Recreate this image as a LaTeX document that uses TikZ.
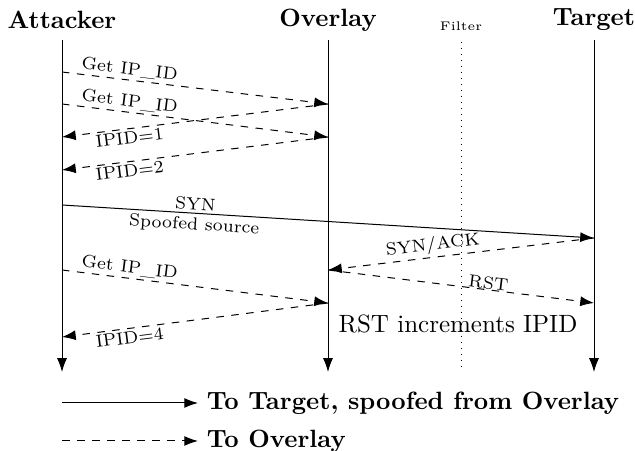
\documentclass[tikz,border=0pt]{standalone}
\usepackage{tikz}
\usetikzlibrary{arrows.meta,positioning}

\begin{document}
\begin{tikzpicture}[
    x=0.4pt, y=-0.4pt,
    title/.style={font=\bfseries},
    msg/.style={font=\scriptsize, sloped, inner sep=1pt},
    arrow/.style={-{Latex[length=5.5pt,width=4pt]}},
    darrow/.style={arrow, dashed}
]
    \useasboundingbox (0,0) rectangle (635,451);

    % actors
    \node[title] (attacker) at (62,20) {Attacker};
    \node[title] (overlay) at (328,20) {Overlay};
    \node[title] (target) at (594,20) {Target};
    \node[font=\tiny] (filter) at (461,26) {Filter};

    % lifelines
    \coordinate (a0) at (62,40);   \coordinate (a9) at (62,372);
    \coordinate (o0) at (328,40);  \coordinate (o9) at (328,372);
    \coordinate (t0) at (594,40);  \coordinate (t9) at (594,372);
    \coordinate (f0) at (461,42);  \coordinate (f9) at (461,367);
    \draw[arrow] (a0) -- (a9);
    \draw[arrow] (o0) -- (o9);
    \draw[arrow] (t0) -- (t9);
    \draw[dotted] (f0) -- (f9);

    % message ends
    \coordinate (a1) at (62,72);  \coordinate (a2) at (62,104);
    \coordinate (a3) at (62,137); \coordinate (a4) at (62,170);
    \coordinate (a5) at (62,205); \coordinate (a6) at (62,270);
    \coordinate (a7) at (62,337);
    \coordinate (o1) at (328,104); \coordinate (o2) at (328,137);
    \coordinate (o3) at (328,270); \coordinate (o4) at (328,303);
    \coordinate (t1) at (594,238); \coordinate (t2) at (594,303);

    % messages
    \draw[darrow] (a1) -- node[msg, above, pos=0.25] {Get IP\_ID} (o1);
    \draw[darrow] (a2) -- node[msg, above, pos=0.25] {Get IP\_ID} (o2);
    \draw[darrow] (o1) -- node[msg, below, pos=0.75] {IPID=1} (a3);
    \draw[darrow] (o2) -- node[msg, below, pos=0.75] {IPID=2} (a4);
    \draw[arrow] (a5) -- node[msg, above, pos=0.25] {SYN}
        node[msg, below, pos=0.25, inner sep=1.5pt] {Spoofed source} (t1);
    \draw[darrow] (t1) -- node[msg, above, pos=0.6] {SYN/ACK} (o3);
    \draw[darrow] (o3) -- node[msg, above, pos=0.6, inner sep=0pt] {RST} (t2);
    \draw[darrow] (a6) -- node[msg, above, pos=0.25] {Get IP\_ID} (o4);
    \draw[darrow] (o4) -- node[msg, below, pos=0.75] {IPID=4} (a7);

    \node (note) at (458,324) {RST increments IPID};

    % legend
    \coordinate (l1) at (62,403);
    \coordinate (l2) at (62,441);
    \node[title, anchor=west] (leg1) at (198,403) {To Target, spoofed from Overlay};
    \node[title, anchor=west] (leg2) at (198,441) {To Overlay};
    \draw[arrow] (l1) -- (leg1.west);
    \draw[darrow] (l2) -- (leg2.west);
\end{tikzpicture}
\end{document}
